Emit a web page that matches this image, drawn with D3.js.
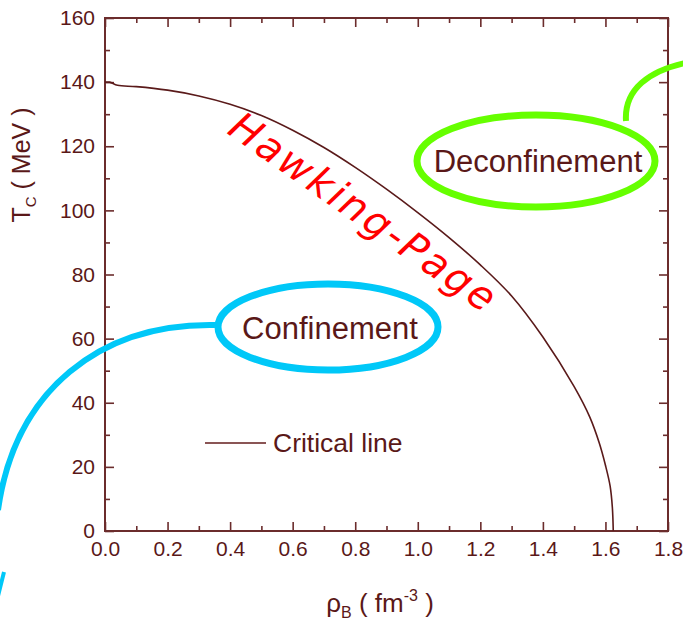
<!DOCTYPE html>
<html>
<head>
<meta charset="utf-8">
<script src="https://cdn.jsdelivr.net/npm/d3@7"></script>
<style>
  body { margin: 0; background: #fff; }
  text { font-family: "Liberation Sans", Arial, sans-serif; }
</style>
</head>
<body>
<script>
const width = 683;
const height = 621;

// critical line
const rho = [0, 0.015, 0.04, 0.1, 0.2, 0.3, 0.4, 0.5, 0.6, 0.7, 0.8, 0.9, 1.0, 1.1, 1.2, 1.3, 1.4, 1.5, 1.55, 1.58, 1.6, 1.615, 1.622, 1.625];
const tc  = [140, 140, 139, 138.6, 137.5, 135.7, 133.1, 129.6, 125, 119.6, 113.4, 106.6, 99.3, 91.5, 83, 73.3, 60.5, 45, 35.5, 27.5, 20.5, 14, 7.5, 0];

const xMajor = [0, 0.2, 0.4, 0.6, 0.8, 1.0, 1.2, 1.4, 1.6, 1.8];
const xMinor = [0.1, 0.3, 0.5, 0.7, 0.9, 1.1, 1.3, 1.5, 1.7];
const yMajor = [0, 20, 40, 60, 80, 100, 120, 140, 160];
const yMinor = [10, 30, 50, 70, 90, 110, 130, 150];

const axisColor = "#6b2c2c";
const textColor = "#5a1818";

const svg = d3.select("body").append("svg")
  .attr("width", width)
  .attr("height", height);

const x = d3.scaleLinear().domain([0, 1.8]).range([105, 668]);
const y = d3.scaleLinear().domain([0, 160]).range([531, 18]);

// ticks, all pointing inward
function drawAxis(axis, transform, labels) {
  const g = svg.append("g").attr("transform", transform).call(axis);
  g.select(".domain").remove();
  g.selectAll(".tick line").attr("stroke", axisColor).attr("stroke-width", 1.6);
  g.selectAll("text")
    .attr("fill", textColor)
    .style("font-size", labels ? "21px" : "0px")
    .style("font-family", "Liberation Sans, Arial, sans-serif");
  return g;
}

drawAxis(d3.axisBottom(x).tickValues(xMajor).tickSize(-9).tickPadding(10).tickFormat(d3.format(".1f")), "translate(0,531)", true);
drawAxis(d3.axisBottom(x).tickValues(xMinor).tickSize(-5).tickFormat(""), "translate(0,531)", false);
drawAxis(d3.axisTop(x).tickValues(xMajor).tickSize(-9).tickFormat(""), "translate(0,18)", false);
drawAxis(d3.axisTop(x).tickValues(xMinor).tickSize(-5).tickFormat(""), "translate(0,18)", false);
drawAxis(d3.axisLeft(y).tickValues(yMajor).tickSize(-9).tickPadding(10).tickFormat(d3.format("d")), "translate(105,0)", true);
drawAxis(d3.axisLeft(y).tickValues(yMinor).tickSize(-5).tickFormat(""), "translate(105,0)", false);
drawAxis(d3.axisRight(y).tickValues(yMajor).tickSize(-9).tickFormat(""), "translate(668,0)", false);
drawAxis(d3.axisRight(y).tickValues(yMinor).tickSize(-5).tickFormat(""), "translate(668,0)", false);

// frame
svg.append("rect")
  .attr("x", x(0)).attr("y", y(160))
  .attr("width", x(1.8) - x(0)).attr("height", y(0) - y(160))
  .attr("fill", "none").attr("stroke", axisColor).attr("stroke-width", 2);

// critical line
const line = d3.line()
  .x((d, i) => x(rho[i]))
  .y((d, i) => y(tc[i]))
  .curve(d3.curveCatmullRom.alpha(0.5));

svg.append("path")
  .datum(tc)
  .attr("d", line)
  .attr("fill", "none")
  .attr("stroke", "#5a1a1a")
  .attr("stroke-width", 1.6);

// legend
svg.append("line")
  .attr("x1", 205).attr("x2", 266).attr("y1", 443).attr("y2", 443)
  .attr("stroke", "#8a5555").attr("stroke-width", 1.8);
svg.append("text")
  .attr("x", 273).attr("y", 452)
  .attr("fill", textColor)
  .style("font-size", "26.5px")
  .text("Critical line");

// axis titles
svg.append("text")
  .attr("x", 380).attr("y", 612)
  .attr("text-anchor", "middle")
  .attr("fill", textColor)
  .style("font-size", "26px")
  .call(t => {
    t.append("tspan").text("ρ");
    t.append("tspan").attr("dy", 6).style("font-size", "16px").text("B");
    t.append("tspan").attr("dy", -6).text(" ( fm");
    t.append("tspan").attr("dy", -11).style("font-size", "16px").text("-3");
    t.append("tspan").attr("dy", 11).text(" )");
  });

svg.append("text")
  .attr("transform", "translate(30,165) rotate(-90)")
  .attr("text-anchor", "middle")
  .attr("fill", textColor)
  .style("font-size", "25px")
  .call(t => {
    t.append("tspan").text("T");
    t.append("tspan").attr("dy", 6).style("font-size", "15px").text("C");
    t.append("tspan").attr("dy", -6).text(" ( MeV )");
  });

// annotations
svg.append("path")
  .attr("d", "M215,325 C100,323 15,390 -2,510")
  .attr("fill", "none").attr("stroke", "#00c8f8").attr("stroke-width", 6);
svg.append("path")
  .attr("d", "M4,572 L-2,596")
  .attr("fill", "none").attr("stroke", "#00c8f8").attr("stroke-width", 4);
svg.append("ellipse")
  .attr("cx", 328).attr("cy", 327).attr("rx", 110).attr("ry", 43)
  .attr("fill", "none").attr("stroke", "#00c8f8").attr("stroke-width", 7);
svg.append("text")
  .attr("x", 330).attr("y", 339)
  .attr("text-anchor", "middle")
  .attr("fill", textColor)
  .style("font-size", "31px")
  .text("Confinement");

svg.append("path")
  .attr("d", "M626,121 C624,90 648,70 690,62")
  .attr("fill", "none").attr("stroke", "#66ff00").attr("stroke-width", 6);
svg.append("ellipse")
  .attr("cx", 536).attr("cy", 161).attr("rx", 119).attr("ry", 46)
  .attr("fill", "none").attr("stroke", "#66ff00").attr("stroke-width", 7);
svg.append("text")
  .attr("x", 538).attr("y", 172)
  .attr("text-anchor", "middle")
  .attr("fill", textColor)
  .style("font-size", "31px")
  .text("Deconfinement");

svg.append("text")
  .attr("transform", "translate(355,223) rotate(35)")
  .attr("text-anchor", "middle")
  .attr("fill", "#ff0000")
  .style("font-size", "40px")
  .style("font-style", "italic")
  .style("font-family", "DejaVu Sans, sans-serif")
  .style("font-weight", "200")
  .attr("textLength", 315)
  .text("Hawking-Page");
</script>
</body>
</html>
